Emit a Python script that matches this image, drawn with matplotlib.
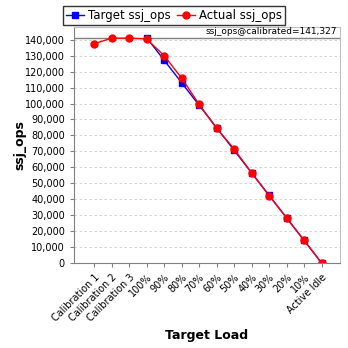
import matplotlib
matplotlib.use("Agg")
import matplotlib.pyplot as plt
from matplotlib.ticker import FuncFormatter, MultipleLocator

categories = ["Calibration 1", "Calibration 2", "Calibration 3", "100%", "90%", "80%",
              "70%", "60%", "50%", "40%", "30%", "20%", "10%", "Active Idle"]
target_idx = list(range(3, 14))
target_ops = [141327, 127194, 113062, 98929, 84796, 70664, 56531, 42398, 28265, 14133, 0]
actual_ops = [137500, 141000, 141000, 140500, 130000, 116000, 99500, 84500,
              71500, 56500, 42300, 28300, 14200, 0]
calibrated = 141327

plt.rcParams['font.family'] = ['DejaVu Sans']
fig = plt.figure(figsize=(3.48, 3.48), dpi=100)
ax = fig.add_axes([74/348, 1-263/348, (340-74)/348, (263-27)/348])

ax.set_ylim(0, 148000)
ax.set_xlim(-1.15, 14.05)
ax.yaxis.set_major_locator(MultipleLocator(10000))
ax.yaxis.set_major_formatter(FuncFormatter(lambda v, p: f"{int(v):,}"))
ax.grid(axis='y', color='#cccccc', linestyle=(0, (3, 3)), linewidth=0.6)
ax.set_axisbelow(True)

ax.axhline(calibrated, color='#808080', linewidth=1.0)
ax.text(0.99, (calibrated + 1200) / 148000, f"ssj_ops@calibrated={calibrated:,}",
        transform=ax.transAxes, ha='right', va='bottom', fontsize=6.5)

ax.plot(target_idx, target_ops, color='blue', marker='s', markersize=4.5, linewidth=1,
        label='Target ssj_ops')
ax.plot(range(len(categories)), actual_ops, color='red', marker='o', markersize=5,
        linewidth=1, label='Actual ssj_ops')

ax.set_xticks(range(len(categories)))
ax.set_xticklabels(categories, rotation=45, ha='right', rotation_mode='anchor', fontsize=7)
ax.tick_params(axis='y', labelsize=7, length=3, color='#808080')
ax.tick_params(axis='x', length=3, color='#808080')
for s in ['top', 'right']:
    ax.spines[s].set_color('#c0c0c0')
for s in ['left', 'bottom']:
    ax.spines[s].set_color('#808080')

ax.set_xlabel('Target Load', fontsize=9, fontweight='bold')
ax.set_ylabel('ssj_ops', fontsize=9, fontweight='bold')
ax.yaxis.set_label_coords(-0.18, 0.5)

leg = fig.legend(loc='upper center', bbox_to_anchor=(0.5, 1.0), ncol=2, fontsize=8.5,
                 frameon=True, fancybox=False, edgecolor='black', handlelength=1.5,
                 handletextpad=0.3, columnspacing=0.6, borderpad=0.25)
leg.get_frame().set_linewidth(1.0)

fig.savefig('out.png', dpi=100)
